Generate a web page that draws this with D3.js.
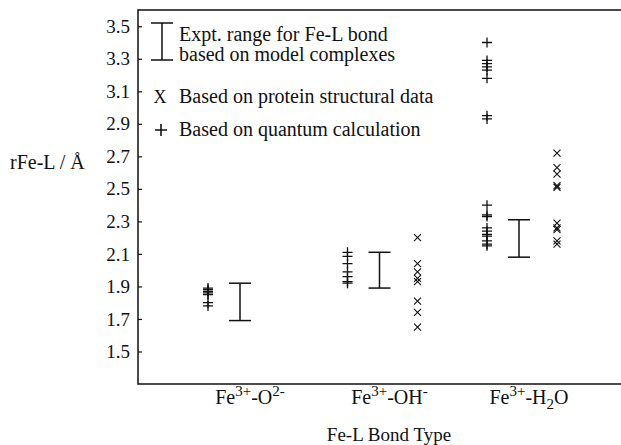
<!DOCTYPE html>
<html>
<head>
<meta charset="utf-8">
<script src="https://cdn.jsdelivr.net/npm/d3@7"></script>
<style>
  body { margin: 0; background: #fff; }
  svg { display: block; }
  text { font-family: "Liberation Serif", "Times New Roman", serif; fill: #111; }
</style>
</head>
<body>
<div id="chart"></div>
<script>
// bond types along the x axis
var categories = ["O", "OH", "H2O"];

// quantum calculation values (+)
var quantumO   = [1.89, 1.88, 1.87, 1.86, 1.85, 1.80, 1.78];
var quantumOH  = [2.11, 2.085, 2.04, 1.99, 1.96, 1.93, 1.92];
var quantumH2O = [3.40, 3.29, 3.27, 3.25, 3.23, 3.18, 2.95, 2.93,
                  2.40, 2.34, 2.33, 2.26, 2.24, 2.22, 2.21, 2.18, 2.16, 2.15];

// protein structural data (x)
var proteinO   = [];
var proteinOH  = [2.20, 2.04, 1.99, 1.95, 1.93, 1.81, 1.74, 1.65];
var proteinH2O = [2.72, 2.63, 2.59, 2.52, 2.51, 2.29, 2.26, 2.25, 2.18, 2.16];

// experimental ranges [low, high]
var exptRanges = [[1.69, 1.92], [1.89, 2.11], [2.08, 2.31]];

var yTicks = [1.5, 1.7, 1.9, 2.1, 2.3, 2.5, 2.7, 2.9, 3.1, 3.3, 3.5];

var quantum = [quantumO, quantumOH, quantumH2O];
var protein = [proteinO, proteinOH, proteinH2O];

var width = 621, height = 445;
var box = {left: 138, top: 10, right: 621, bottom: 384};

var svg = d3.select("#chart").append("svg")
            .attr("width", width)
            .attr("height", height);

var y = d3.scaleLinear()
          .domain([1.3, 3.6])
          .range([box.bottom, box.top]);

var x = d3.scalePoint()
          .domain(categories)
          .range([248, 527]);

var off = {plus: -40, range: -8, cross: 30};

// frame
svg.append("rect")
   .attr("x", box.left)
   .attr("y", box.top)
   .attr("width", box.right - box.left + 2)
   .attr("height", box.bottom - box.top)
   .attr("fill", "none")
   .attr("stroke", "#111")
   .attr("stroke-width", 1.5);

// y axis, ticks pointing inward
var yAxis = d3.axisLeft(y)
              .tickValues(yTicks)
              .tickFormat(d3.format(".1f"))
              .tickSize(-4)
              .tickPadding(8);

var yGroup = svg.append("g")
                .attr("transform", "translate(" + box.left + ",0)")
                .call(yAxis);
yGroup.select(".domain").remove();
yGroup.selectAll("line").attr("stroke", "#111").attr("stroke-width", 1.2);
yGroup.selectAll("text")
      .attr("font-size", 19)
      .style("font-family", "Liberation Serif, serif")
      .attr("fill", "#111");

// y label
svg.append("text")
   .attr("x", 10)
   .attr("y", 169)
   .attr("font-size", 20)
   .text("rFe-L / Å");

// quantum (+)
categories.forEach(function(c, i) {
    svg.append("g").selectAll("path")
       .data(quantum[i])
       .enter().append("path")
       .attr("transform", function(d) { return "translate(" + (x(c) + off.plus) + "," + y(d) + ")"; })
       .attr("d", "M-5,0H5M0,-5V5")
       .attr("stroke", "#111")
       .attr("stroke-width", 1.3)
       .attr("fill", "none");
});

// protein (x)
categories.forEach(function(c, i) {
    svg.append("g").selectAll("path")
       .data(protein[i])
       .enter().append("path")
       .attr("transform", function(d) { return "translate(" + (x(c) + off.cross) + "," + y(d) + ")"; })
       .attr("d", "M-3.5,-3.5L3.5,3.5M-3.5,3.5L3.5,-3.5")
       .attr("stroke", "#111")
       .attr("stroke-width", 1.1)
       .attr("fill", "none");
});

// expt ranges
function rangeBar(g, cx, y0, y1) {
    g.append("line").attr("x1", cx).attr("x2", cx).attr("y1", y0).attr("y2", y1);
    g.append("line").attr("x1", cx - 11).attr("x2", cx + 11).attr("y1", y0).attr("y2", y0);
    g.append("line").attr("x1", cx - 11).attr("x2", cx + 11).attr("y1", y1).attr("y2", y1);
    g.selectAll("line").attr("stroke", "#111").attr("stroke-width", 1.5);
}
categories.forEach(function(c, i) {
    rangeBar(svg.append("g"), x(c) + off.range, y(exptRanges[i][1]), y(exptRanges[i][0]));
});

// category labels
var catLabels = [
    [["Fe", 0], ["3+", 1], ["-O", 0], ["2-", 1]],
    [["Fe", 0], ["3+", 1], ["-OH", 0], ["-", 1]],
    [["Fe", 0], ["3+", 1], ["-H", 0], ["2", -1], ["O", 0]]
];
categories.forEach(function(c, i) {
    var t = svg.append("text")
               .attr("x", x(c) + 2)
               .attr("y", 404)
               .attr("text-anchor", "middle")
               .attr("font-size", 20);
    var prev = 0;
    catLabels[i].forEach(function(p) {
        var shift = p[1] === 1 ? -8 : (p[1] === -1 ? 5 : 0);
        t.append("tspan")
         .attr("dy", shift - prev)
         .attr("font-size", p[1] === 0 ? 20 : 15)
         .text(p[0]);
        prev = shift;
    });
});

// x label
svg.append("text")
   .attr("x", 389)
   .attr("y", 441)
   .attr("text-anchor", "middle")
   .attr("font-size", 19)
   .text("Fe-L Bond Type");

// legend
var lg = svg.append("g");
rangeBar(lg, 162, 23, 60);
lg.append("text").attr("x", 179).attr("y", 41).attr("font-size", 20).text("Expt. range for Fe-L bond");
lg.append("text").attr("x", 179).attr("y", 61).attr("font-size", 20).text("based on model complexes");
lg.append("text").attr("x", 160).attr("y", 103).attr("text-anchor", "middle").attr("font-size", 18).text("X");
lg.append("text").attr("x", 179).attr("y", 103).attr("font-size", 20).text("Based on protein structural data");
lg.append("path")
  .attr("transform", "translate(161,130)")
  .attr("d", "M-6,0H6M0,-6V6")
  .attr("stroke", "#111")
  .attr("stroke-width", 1.6);
lg.append("text").attr("x", 179).attr("y", 136).attr("font-size", 20).text("Based on quantum calculation");
</script>
</body>
</html>
